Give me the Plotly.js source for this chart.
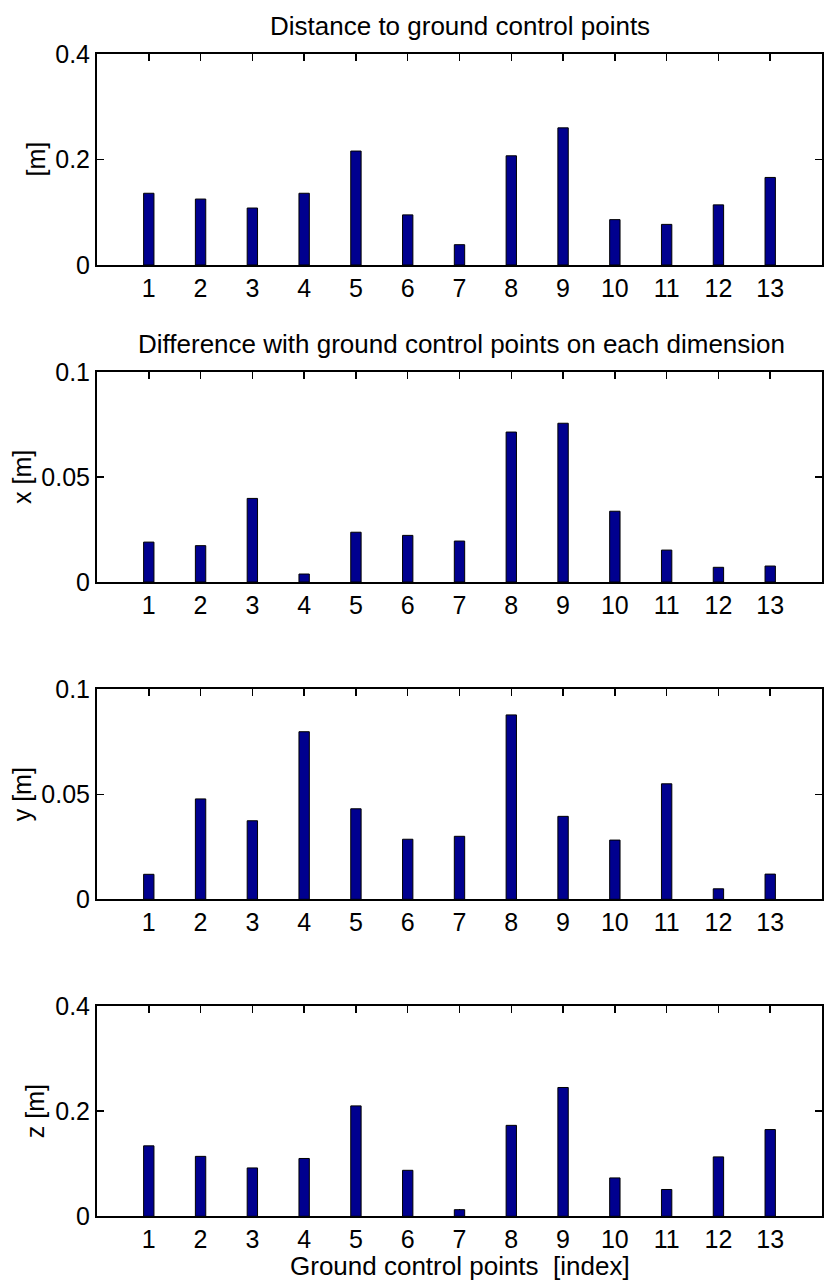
<!DOCTYPE html>
<html>
<head>
<meta charset="utf-8">
<script src="https://cdn.plot.ly/plotly-3.0.1.min.js"></script>
<style>
html,body{margin:0;padding:0;background:#fff;}
#chart{width:830px;height:1284px;}
</style>
</head>
<body>
<div id="chart"></div>
<script>
// ---- data ----
const categories = [1,2,3,4,5,6,7,8,9,10,11,12,13];
const distance = [0.136,0.125,0.108,0.136,0.216,0.095,0.0385,0.207,0.260,0.086,0.077,0.114,0.166];
const diffX = [0.0190,0.0173,0.0398,0.0038,0.0237,0.0222,0.0195,0.0714,0.0756,0.0337,0.0152,0.0070,0.0076];
const diffY = [0.0119,0.0478,0.0374,0.0798,0.0431,0.0286,0.0300,0.0878,0.0395,0.0282,0.0550,0.0050,0.0120];
const diffZ = [0.134,0.114,0.092,0.110,0.210,0.0875,0.0126,0.173,0.245,0.073,0.051,0.113,0.165];

const ticksBig = [0,0.2,0.4];
const ticksBigText = ['0','0.2','0.4'];
const ticksSmall = [0,0.05,0.1];
const ticksSmallText = ['0','0.05','0.1'];

const panelTitles = ['Distance to ground control points','Difference with ground control points on each dimension'];
const yLabels = ['[m]','x [m]','y [m]','z [m]'];
const xLabel = 'Ground control points  [index]';

// ---- styling ----
const FONT = 'Liberation Sans, Arial, Helvetica, sans-serif';
const FS = 25;
const TFS = 26;
const barColor = 'rgb(0,0,143)';
const W = 830, H = 1284;
const px = v => v / W;
const py = v => 1 - v / H;

// panel pixel boxes [top, bottom]
const panels = [[54,265],[372,582],[689.3,899.3],[1006,1216.3]];
const xDom = [px(97), px(822)];

const series = [distance, diffX, diffY, diffZ];
const yRanges = [[0,0.4],[0,0.1],[0,0.1],[0,0.4]];
const yTicks = [ticksBig, ticksSmall, ticksSmall, ticksBig];
const yTickText = [ticksBigText, ticksSmallText, ticksSmallText, ticksBigText];
const yLabelX = [35,22,22,35];

const data = [];
const layout = {
  width: W, height: H,
  margin: {l:0,r:0,t:0,b:0,pad:0},
  paper_bgcolor:'#fff', plot_bgcolor:'#fff',
  showlegend:false,
  font:{family:FONT,size:FS,color:'#000'},
  bargap:0,
  annotations:[]
};

series.forEach((vals,i)=>{
  const n = i+1;
  const xa = n===1?'x':'x'+n, ya = n===1?'y':'y'+n;
  data.push({
    type:'bar', x:categories, y:vals, xaxis:xa, yaxis:ya,
    width:0.2,
    marker:{color:barColor, line:{color:'#000', width:1}},
    hoverinfo:'x+y'
  });
  const axCommon = {
    showline:true, linecolor:'#000', linewidth:2, mirror:'allticks',
    ticks:'inside', ticklen:7, tickwidth:1.5, tickcolor:'#000',
    showgrid:false, zeroline:false, layer:'below traces',
    tickfont:{family:FONT,size:FS,color:'#000'}, fixedrange:true
  };
  layout[n===1?'xaxis':'xaxis'+n] = Object.assign({}, axCommon, {
    domain:xDom, range:[0,14], tickmode:'array', tickvals:categories,
    ticktext:categories.map(String), anchor:ya
  });
  const [t,b] = panels[i];
  layout[n===1?'yaxis':'yaxis'+n] = Object.assign({}, axCommon, {
    domain:[py(b), py(t)], range:yRanges[i], tickmode:'array',
    tickvals:yTicks[i], ticktext:yTickText[i], anchor:xa
  });
  layout.annotations.push({
    xref:'paper', yref:'paper', x:px(yLabelX[i]), y:py((t+b)/2),
    text:yLabels[i], textangle:-90, showarrow:false,
    xanchor:'center', yanchor:'middle', font:{family:FONT,size:FS,color:'#000'}
  });
});

layout.annotations.push({
  xref:'paper', yref:'paper', x:px(460), y:py(26), text:panelTitles[0],
  showarrow:false, xanchor:'center', yanchor:'middle', font:{family:FONT,size:TFS,color:'#000'}
});
layout.annotations.push({
  xref:'paper', yref:'paper', x:px(461), y:py(344), text:panelTitles[1],
  showarrow:false, xanchor:'center', yanchor:'middle', font:{family:FONT,size:TFS,color:'#000'}
});
layout.annotations.push({
  xref:'paper', yref:'paper', x:px(460), y:py(1266), text:xLabel,
  showarrow:false, xanchor:'center', yanchor:'middle', font:{family:FONT,size:TFS,color:'#000'}
});

Plotly.newPlot('chart', data, layout, {staticPlot:true, displayModeBar:false});
</script>
</body>
</html>
